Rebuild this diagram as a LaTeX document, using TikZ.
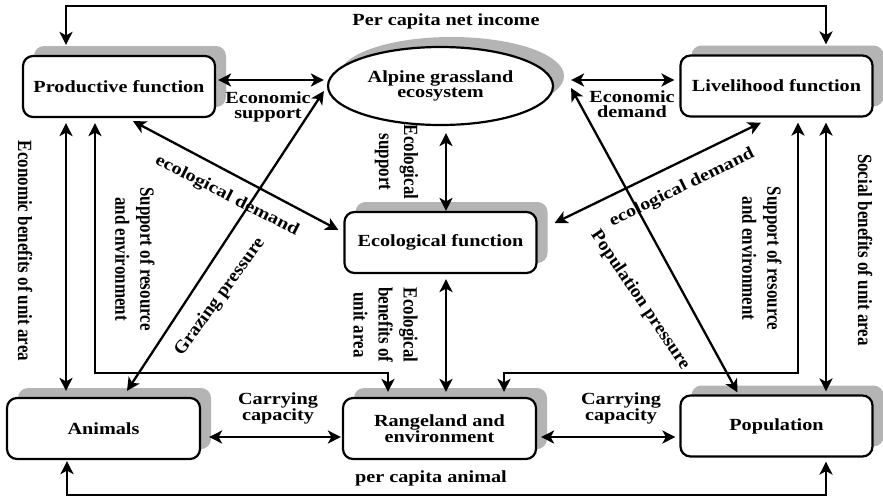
\documentclass[tikz,border=0pt]{standalone}
\usepackage{fontspec}
\setmainfont{Liberation Serif}
% widened face for horizontal text, narrowed face for text set sideways
\newfontfamily\hfont{Liberation Serif}[FakeStretch=1.19]
\newfontfamily\vfont{Liberation Serif}[FakeStretch=0.84]
\newfontfamily\dfont{Liberation Serif}[FakeStretch=1.05]
\usetikzlibrary{arrows.meta,shapes.geometric,shadows}
\definecolor{shgray}{RGB}{180,180,180}
\begin{document}
\begin{tikzpicture}[x=1pt,y=-1pt,
  >={Stealth[length=13pt,width=13pt,inset=3.5pt]},
  conn/.style={line width=2.3pt,<->},
  shadowed/.style={drop shadow={shadow xshift=11pt,shadow yshift=10pt,fill=shgray,opacity=1}},
  fbox/.style={shadowed,draw,fill=white,line width=2.2pt,rounded corners=10pt,
    minimum width=192pt,minimum height=61pt,inner sep=0pt,align=center,
    font=\hfont\bfseries\fontsize{17}{15.5}\selectfont},
  ellbox/.style={shadowed,ellipse,draw,fill=white,line width=2.2pt,
    minimum width=225pt,minimum height=78pt,inner sep=0pt,align=center,
    font=\hfont\bfseries\fontsize{17}{15}\selectfont},
  hl/.style={inner sep=0pt,align=center,font=\hfont\bfseries\fontsize{17}{15}\selectfont},
  vl/.style={inner sep=0pt,align=center,rotate=-90,font=\vfont\bfseries\fontsize{20.2}{25}\selectfont},
  dl/.style={inner sep=0pt,font=\dfont\bfseries\fontsize{18.2}{18}\selectfont}]

\path[use as bounding box,fill=white] (0,0) rectangle (883,501);

% functions and subsystems
\node[fbox] (prod) at (119,86.5) {Productive function};
\node[ellbox] (eco) at (440.5,86) {Alpine grassland\\ecosystem};
\node[fbox] (live) at (776.5,86) {Livelihood function};
\node[fbox] (ecof) at (440.5,242.5) {Ecological function};
\node[fbox,minimum width=193pt] (animals) at (103.5,428.5) {Animals};
\node[fbox,minimum width=193pt] (range) at (439.5,428.5) {Rangeland and\\environment};
\node[fbox] (pop) at (776.5,426) {Population};

% routing points
\coordinate (tl) at (66,6);
\coordinate (tr) at (826,6);
\coordinate (bl) at (67,495);
\coordinate (br) at (826,495);
\coordinate (xa) at (66,250);
\coordinate (xb) at (826,250);
\coordinate (xc) at (446,250);
\coordinate (la) at (95,373);
\coordinate (lb) at (388,373);
\coordinate (ra) at (798,373);
\coordinate (rb) at (504,373);
\coordinate (ya) at (441,80);
\coordinate (yb) at (441,437);

% outer loops
\draw[conn,shorten <=10pt,shorten >=10pt] (prod.north -| tl) -- (tl) -- (tr) -- (live.north -| tr);
\draw[conn,shorten <=1pt,shorten >=4pt] (animals.south -| bl) -- (bl) -- (br) -- (pop.south -| br);

% verticals
\draw[conn,shorten <=5pt,shorten >=6pt] (prod.south -| xa) -- (animals.north -| xa);
\draw[conn,shorten <=5pt,shorten >=5pt] (prod.south -| la) -- (la) -- (lb) -- (range.north -| lb);
\draw[conn,shorten <=5pt,shorten >=5pt] (live.south -| ra) -- (ra) -- (rb) -- (range.north -| rb);
\draw[conn,shorten <=5pt,shorten >=3pt] (live.south -| xb) -- (pop.north -| xb);
\draw[conn,shorten <=7pt] (eco.south -| xc) -- (ecof.north -| xc);
\draw[conn,shorten <=5pt,shorten >=5pt] (ecof.south -| xc) -- (range.north -| xc);

% horizontals
\draw[conn,shorten <=2pt,shorten >=3pt] (prod.east |- ya) -- (eco.west |- ya);
\draw[conn,shorten <=17pt,shorten >=5pt] (eco.east |- ya) -- (live.west |- ya);
\draw[conn,shorten <=8pt,shorten >=1pt] (animals.east |- yb) -- (range.west |- yb);
\draw[conn,shorten <=4pt,shorten >=4pt] (range.east |- yb) -- (pop.west |- yb);

% diagonals
\draw[conn] ([shift={(14,3)}]prod.south) -- ([shift={(-5,-12.5)}]ecof.west);
\draw[conn] ([shift={(17,-19.5)}]ecof.east) -- ([shift={(-15.5,5)}]live.south);
\draw[conn] ([shift={(23.5,-6)}]animals.north) -- ([shift={(-3,5)}]eco.west);
\draw[conn] ([shift={(17,2)}]eco.east) -- ([shift={(-39,-2)}]pop.north);

% labels
\node[hl] (t-income) at (446,21) {Per capita net income};
\node[hl] (t-animal) at (431,478) {per capita animal};
\node[hl] (t-esup) at (268,106.5) {Economic\\support};
\node[hl] (t-edem) at (632,104) {Economic\\demand};
\node[hl] (t-cc1) at (278,408.5) {Carrying\\capacity};
\node[hl] (t-cc2) at (621,408.5) {Carrying\\capacity};
\node[vl] (t-ebua) at (25,251) {Economic benefits of unit area};
\node[vl] (t-sbua) at (865,250) {Social benefits of unit area};
\node[vl] (t-sre1) at (135,259) {Support of resource\\and environment};
\node[vl] (t-sre2) at (762,258.5) {Support of resource\\and environment};
\node[vl] (t-esup2) at (396.5,162) {Ecological\\support};
\node[vl] (t-ebu) at (385.5,325) {Ecological\\benefits of\\unit area};
\node[hl,rotate=-27] (t-ed1) at (227,196) {ecological demand};
\node[hl,rotate=26] (t-ed2) at (682,188) {ecological demand};
\node[dl,rotate=54] (t-gp) at (220,297) {Grazing pressure};
\node[dl,rotate=-56] (t-pp) at (640,300) {Population pressure};
\end{tikzpicture}
\end{document}
